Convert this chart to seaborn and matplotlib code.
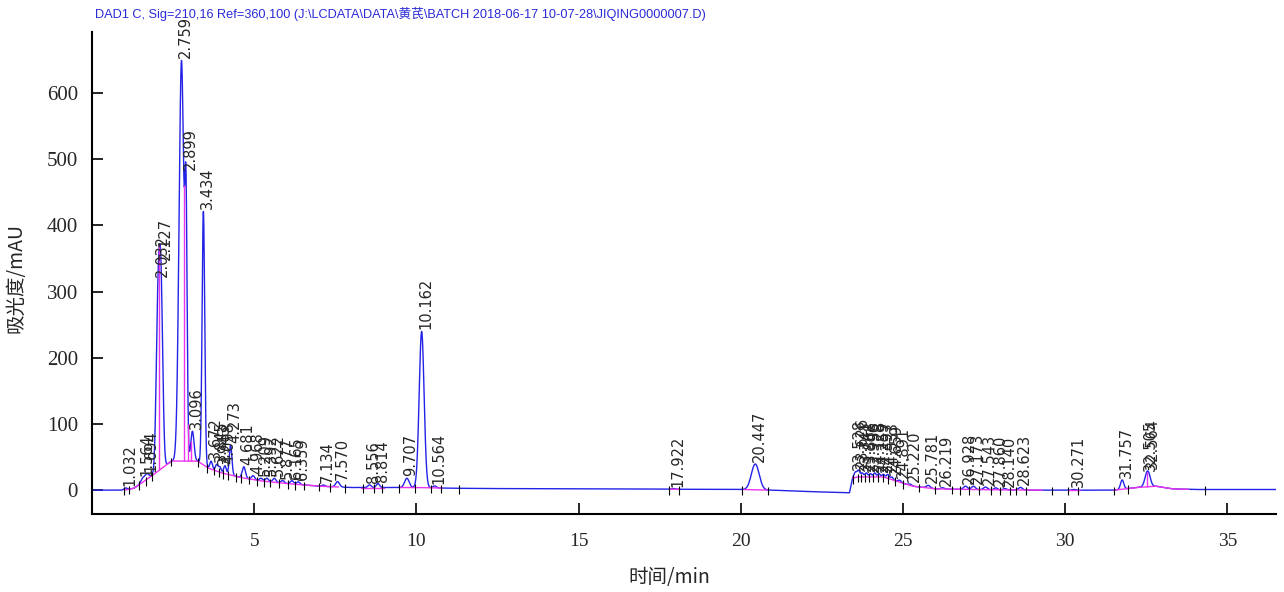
# Import libraries
import numpy as np
import pandas as pd
import matplotlib
matplotlib.use("Agg")
import matplotlib.pyplot as plt
import seaborn as sns

# Peak table: retention time, height above drift, width (sigma, min)
peak_rt = [1.032, 1.564, 1.694, 2.032, 2.127, 2.759, 2.899, 3.096, 3.434, 3.672,
           3.845, 3.943, 4.098, 4.273, 4.681, 4.968, 5.209, 5.392, 5.622, 5.877,
           6.165, 6.359, 7.134, 7.570, 8.556, 8.814, 9.707, 10.162, 10.564, 17.922,
           20.447, 23.528, 23.626, 23.741, 23.868, 23.996, 24.128, 24.259, 24.397, 24.533,
           24.659, 24.891, 25.220, 25.781, 26.219, 26.928, 27.173, 27.543, 27.860, 28.140,
           28.623, 30.271, 31.757, 32.505, 32.564]
peak_height = [3, 6, 8, 232, 261, 605, 330, 45, 383, 12,
               10, 8, 12, 45, 17, 6, 4, 5, 6, 4,
               5, 4, 2, 8, 4, 6, 14, 236, 3, 1,
               39, 8, 10, 6, 6, 5, 6, 5, 4, 6,
               4, 3, 2, 4, 2, 5, 5, 4, 3, 2,
               4, 1, 14, 10, 16]
peak_sigma = [0.05, 0.06, 0.06, 0.055, 0.055, 0.075, 0.035, 0.05, 0.04, 0.04,
              0.04, 0.04, 0.04, 0.04, 0.05, 0.05, 0.05, 0.05, 0.05, 0.05,
              0.05, 0.05, 0.05, 0.06, 0.05, 0.05, 0.07, 0.075, 0.05, 0.05,
              0.12, 0.04, 0.04, 0.04, 0.04, 0.04, 0.04, 0.04, 0.04, 0.04,
              0.04, 0.05, 0.05, 0.06, 0.05, 0.06, 0.06, 0.06, 0.05, 0.05,
              0.06, 0.05, 0.05, 0.07, 0.07]

# Slow drift / unresolved hump under the peaks
drift_t = [0, 1.0, 1.3, 1.8, 2.45, 3.25, 3.6, 4.0, 4.6, 5.2, 6.0, 7.0, 8.0, 10.0, 11.0,
           12.0, 17.5, 20.0, 21.0, 22.0, 23.35, 23.45, 23.6, 24.4, 24.9, 25.3, 26.0,
           27.0, 29.0, 31.5, 32.2, 32.8, 33.3, 34.0, 36.5]
drift_v = [0, 0, 3, 20, 44, 44, 33, 26, 19, 14, 10, 6, 4, 4, 3,
           2.5, 1.5, 1, 0, -2, -4, 18, 20, 20, 12, 6, 2,
           1, 0, 0, 4, 6, 2, 1, 1]

# Integration baseline (magenta) ranges, peak separation drop lines, peak boundary markers
baseline_start = [1.0, 8.3, 9.5, 17.8, 20.1, 23.45, 30.1, 31.5]
baseline_end = [7.6, 9.0, 10.8, 18.1, 20.85, 29.3, 30.45, 33.8]
drop_t = [2.08, 2.84, 2.97, 3.05, 23.47, 32.52]
marker_t = [1.0, 1.15, 1.45, 1.65, 1.85, 2.45, 3.27, 3.55, 3.75, 3.9, 4.05, 4.2, 4.45,
            4.6, 4.85, 5.1, 5.3, 5.5, 5.75, 6.05, 6.25, 6.55, 7.0, 7.35, 7.8, 8.35, 8.7,
            8.95, 9.45, 9.95, 10.45, 10.75, 11.3, 17.8, 18.1, 20.05, 20.85, 23.45, 23.6,
            23.7, 23.82, 23.95, 24.08, 24.22, 24.38, 24.55, 24.75, 25.0, 25.5, 26.0, 26.5,
            26.75, 27.05, 27.35, 27.7, 28.0, 28.3, 28.5, 28.8, 29.6, 30.1, 30.4, 31.5,
            31.95, 34.3]

title = r"DAD1 C, Sig=210,16 Ref=360,100 (J:\LCDATA\DATA\黄芪\BATCH 2018-06-17 10-07-28\JIQING0000007.D)"

# Build the trace
t = np.linspace(0, 36.5, 9000)
def drift(x):
    return np.interp(x, drift_t, drift_v)

def signal(x):
    x = np.asarray(x, dtype=float)
    s = drift(x)
    for rt, h, sg in zip(peak_rt, peak_height, peak_sigma):
        s = s + h * np.exp(-0.5 * ((x - rt) / sg) ** 2)
    return s

df = pd.DataFrame({"time": t, "mAU": signal(t)})

sns.set_style("ticks")
plt.rcParams['font.family'] = ['Liberation Serif', 'Noto Sans CJK SC']

fig = plt.figure(figsize=(12.84, 5.92), dpi=100)
ax = fig.add_axes([92 / 1284, 1 - 514 / 592, 1184 / 1284, 482 / 592])

sns.lineplot(data=df, x="time", y="mAU", ax=ax, color="#2323e8", lw=1.0, estimator=None)

# magenta baseline
for a, b in zip(baseline_start, baseline_end):
    tb = np.linspace(a, b, 200)
    ax.plot(tb, drift(tb), color="#ee33ee", lw=1.0)

# drop lines
dt = np.array(drop_t)
ax.vlines(dt, drift(dt), signal(dt), color="#ee33ee", lw=1.0)

# peak boundary markers
mt = np.array(marker_t)
ax.vlines(mt, drift(mt) - 8, drift(mt) + 5, color="black", lw=0.8)

# retention time labels
for rt in peak_rt:
    apex = float(signal(rt))
    ax.text(rt + 0.13, max(apex, 2) + 3, f"{rt:.3f}", rotation=90, ha="center",
            va="bottom", fontsize=10.5, family="DejaVu Sans", clip_on=False)

ax.set_xlim(0, 36.5)
ax.set_ylim(-36, 692)
ax.set_xticks([5, 10, 15, 20, 25, 30, 35])
ax.set_yticks([0, 100, 200, 300, 400, 500, 600])
ax.tick_params(axis="both", direction="in", length=8, width=1.2, color="black")
ax.tick_params(axis="y", labelsize=15, pad=10)
ax.tick_params(axis="x", labelsize=14, pad=14)
for s in ["top", "right"]:
    ax.spines[s].set_visible(False)
for s in ["left", "bottom"]:
    ax.spines[s].set_linewidth(1.5)
    ax.spines[s].set_color("black")

ax.set_ylabel("吸光度/mAU", fontsize=14, family=["Noto Sans CJK SC", "DejaVu Sans"])
ax.set_xlabel("时间/min", fontsize=14, family=["Noto Sans CJK SC", "DejaVu Sans"])
ax.yaxis.set_label_coords(-0.055, 0.49)
ax.xaxis.set_label_coords(0.488, -0.11)

fig.text(95 / 1284, 1 - 14 / 592, title, color="#2a2ad8", fontsize=9.2, va="center",
         ha="left", family=["Liberation Sans", "Noto Sans CJK SC"])

fig.savefig("out.png", dpi=100)
